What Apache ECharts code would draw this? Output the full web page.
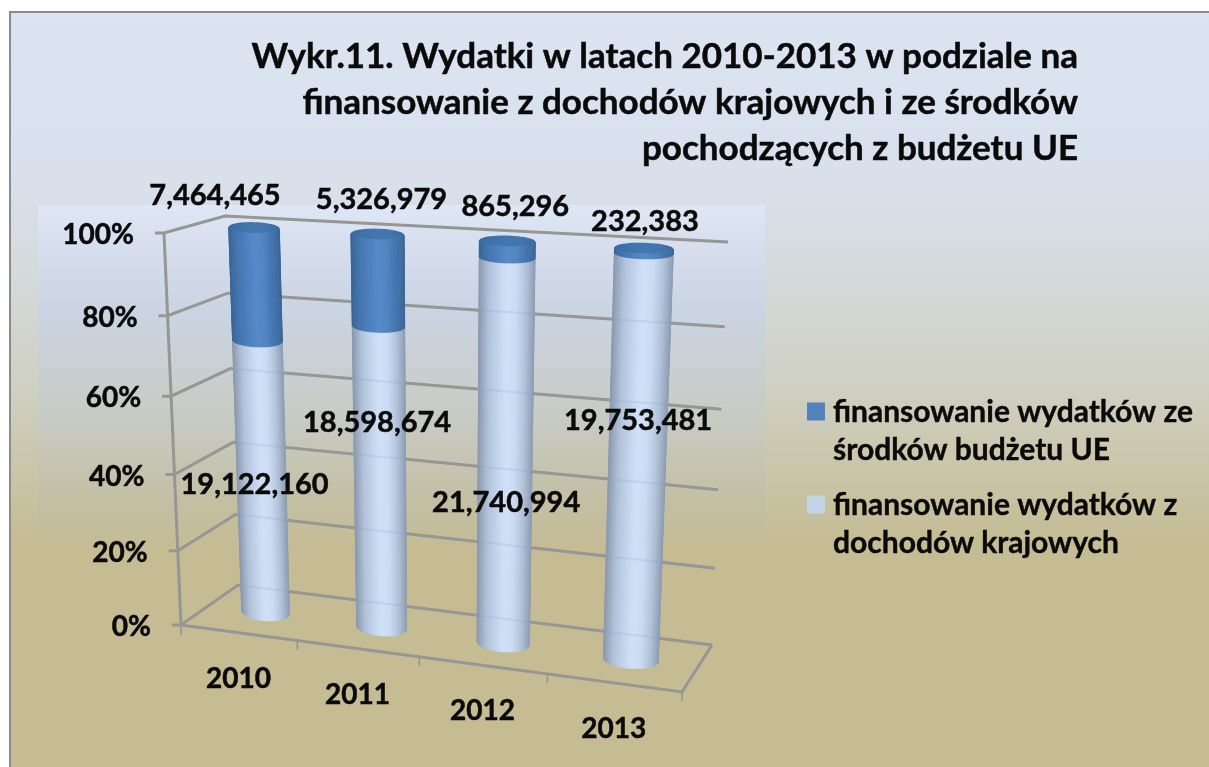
<!DOCTYPE html>
<html>
<head>
<meta charset="utf-8">
<style>
  html, body { margin: 0; padding: 0; background: #fff; }
  #chart { width: 1209px; height: 767px; }
</style>
<script src="https://cdn.jsdelivr.net/npm/echarts@6/dist/echarts.min.js"></script>
</head>
<body>
<div id="chart"></div>
<script>
const years = ["2010", "2011", "2012", "2013"];
const euFunds = [7464465, 5326979, 865296, 232383];
const domesticFunds = [19122160, 18598674, 21740994, 19753481];
const percentTicks = [0, 20, 40, 60, 80, 100];
const titleText = "Wykr.11. Wydatki w latach 2010-2013 w podziale na\nfinansowanie z dochodów krajowych i ze środków\npochodzących z budżetu UE";
const euName = "finansowanie wydatków ze\nśrodków budżetu UE";
const domesticName = "finansowanie wydatków z\ndochodów krajowych";

// hand placed labels in the original, offset from the bar they belong to
const euLabelOffset = [[-39, -32], [4, -35], [8, -34], [1, -27]];
const domesticLabelOffset = [[-7, 5], [-3, -58], [1, 46], [1, -43]];

const FONT = "Lato";
const INK = "#0a0a0a";
const WALL = "#969694";
const gridBox = { left: 181, top: 235, width: 500, height: 390 };

// picture corners of the chart box: bottom left, bottom right, top right, top left
const frontQuad = [[181, 625], [682, 692], [702, 262], [164, 233]];
const backQuad = [[238, 585], [712, 645], [728, 242], [225, 216]];

function makeHomography(q) {
  const [[x0, y0], [x1, y1], [x2, y2], [x3, y3]] = q;
  const dx1 = x1 - x2, dx2 = x3 - x2, sx = x0 - x1 + x2 - x3;
  const dy1 = y1 - y2, dy2 = y3 - y2, sy = y0 - y1 + y2 - y3;
  const den = dx1 * dy2 - dx2 * dy1;
  const g = (sx * dy2 - dx2 * sy) / den;
  const h = (dx1 * sy - sx * dy1) / den;
  const a = x1 - x0 + g * x1, b = x3 - x0 + h * x3;
  const d = y1 - y0 + g * y1, e = y3 - y0 + h * y3;
  return (u, v) => {
    const w = g * u + h * v + 1;
    return [(a * u + b * v + x0) / w, (d * u + e * v + y0) / w];
  };
}
const frontPlane = makeHomography(frontQuad);
const backPlane = makeHomography(backQuad);

// axis pixel -> picture pixel, depth 0 is the front of the box and 1 the back wall
function project(pt, depth, shiftU) {
  const u = (pt[0] - gridBox.left) / gridBox.width + (shiftU || 0);
  const v = (gridBox.top + gridBox.height - pt[1]) / gridBox.height;
  const f = frontPlane(u, v);
  const b = backPlane(u, v);
  return [f[0] + (b[0] - f[0]) * depth, f[1] + (b[1] - f[1]) * depth];
}

function textEl(text, x, y, size, align) {
  return {
    type: "text",
    z2: 50,
    style: {
      x, y, text,
      fill: INK,
      stroke: INK,
      lineWidth: 0.5,
      font: "bold " + size + "px " + FONT,
      align: align || "center",
      verticalAlign: "middle",
    },
  };
}

function line(points, width) {
  return {
    type: "polyline",
    shape: { points },
    style: { fill: null, stroke: WALL, lineWidth: width || 3 },
  };
}

const BAR_HALF_U = 0.0525;
const STRIPS = 36;
const lightShades = ["#8c9ab0", "#b0c1d9", "#c2d3ec", "#d1e1f8", "#cbdbf3", "#b1c2da", "#8d9bb1"];
const blueShades = ["#3a6698", "#4375b0", "#4d7fbe", "#5589c9", "#5083c2", "#4273ae", "#3a6698"];
const capShades = ["#3a6a9f", "#4072aa", "#4476b0", "#4274ae", "#3a6a9f"];

function rimPoint(rim, t) {
  return [
    rim.c[0] + rim.half[0] * Math.cos(t),
    rim.c[1] + rim.half[1] * 0.5 * Math.cos(t) + rim.ry * Math.sin(t),
  ];
}

// vertical strips instead of one gradient so the shading leans with the bar
function cylinderPart(api, shades, withCap) {
  const i = api.value(0);
  const rim = (pct) => {
    const base = api.coord([i, pct]);
    const l = project(base, 0.5, -BAR_HALF_U);
    const r = project(base, 0.5, BAR_HALF_U);
    return {
      c: project(base, 0.5),
      half: [(r[0] - l[0]) / 2, (r[1] - l[1]) / 2],
      ry: 8.5 - 3 * pct / 100,
    };
  };
  const lo = rim(api.value(1));
  const hi = rim(api.value(2));
  const kids = [];
  for (let s = 0; s < STRIPS; s++) {
    const t0 = Math.PI * s / STRIPS;
    const t1 = Math.PI * (s + 1) / STRIPS;
    const color = echarts.color.lerp((Math.cos((t0 + t1) / 2) + 1) / 2, shades);
    kids.push({
      type: "polygon",
      shape: { points: [rimPoint(lo, t0), rimPoint(lo, t1), rimPoint(hi, t1), rimPoint(hi, t0)] },
      style: { fill: color, stroke: color, lineWidth: 0.7 },
    });
  }
  if (withCap) {
    const cap = [];
    for (let s = 0; s < 48; s++) cap.push(rimPoint(hi, Math.PI * 2 * s / 48));
    kids.push({
      type: "polygon",
      shape: { points: cap },
      style: {
        fill: new echarts.graphic.LinearGradient(0, 0, 1, 0,
          capShades.map((color, n) => ({ offset: n / (capShades.length - 1), color }))),
      },
    });
  }
  return kids;
}

// the back wall lines show faintly through the pale part of the bar
function wallGhosts(api) {
  const i = api.value(0);
  const kids = [];
  percentTicks.forEach((pct) => {
    if (pct >= api.value(2)) return;
    const y = api.coord([0, pct])[1];
    const backL = project([gridBox.left, y], 1);
    const backR = project([gridBox.left + gridBox.width, y], 1);
    const mid = project(api.coord([i, pct]), 0.5);
    const hw = (project(api.coord([i, pct]), 0.5, BAR_HALF_U)[0] - mid[0]) * 0.94;
    const atX = (x) => [x, backL[1] + (backR[1] - backL[1]) * (x - backL[0]) / (backR[0] - backL[0])];
    kids.push({
      type: "polyline",
      shape: { points: [atX(mid[0] - hw), atX(mid[0] + hw)] },
      style: { fill: null, stroke: "#8ea5d0", lineWidth: 2, opacity: 0.22 },
    });
  });
  return kids;
}

const totals = years.map((y, i) => euFunds[i] + domesticFunds[i]);
const domesticData = years.map((y, i) => [i, 0, domesticFunds[i] / totals[i] * 100, domesticFunds[i]]);
const euData = years.map((y, i) => [i, domesticFunds[i] / totals[i] * 100, 100, euFunds[i]]);

const chart = echarts.init(document.getElementById("chart"));
chart.setOption({
  animation: false,
  backgroundColor: "#ffffff",
  title: {
    text: titleText,
    left: 1078,
    top: 34,
    padding: 0,
    textAlign: "right",
    textStyle: {
      fontFamily: FONT, fontWeight: "bold", fontSize: 35, lineHeight: 46, color: INK,
      align: "right", textBorderColor: INK, textBorderWidth: 0.5,
    },
  },
  legend: {
    orient: "vertical",
    left: 802,
    top: 388,
    itemGap: 17,
    itemWidth: 21,
    itemHeight: 57,
    // square sits level with the first text line, the empty move stretches the icon box
    icon: "path://M0,0H18V18H0Z M21,57L21,57Z",
    data: [euName, domesticName],
    textStyle: {
      fontFamily: FONT, fontWeight: "bold", fontSize: 30, lineHeight: 38, color: INK,
      textBorderColor: INK, textBorderWidth: 0.4,
    },
  },
  grid: gridBox,
  xAxis: { type: "category", data: years, show: false },
  yAxis: { type: "value", min: 0, max: 100, interval: 20, show: false },
  graphic: [
    { type: "rect", z: -10, shape: { x: 10, y: 12, width: 1300, height: 900 },
      style: {
        stroke: "#8c8c8c", lineWidth: 2,
        fill: new echarts.graphic.LinearGradient(0, 0, 0, 540, [
          { offset: 0, color: "#dce4f3" },
          { offset: 0.35, color: "#d9e0ec" },
          { offset: 0.72, color: "#cfd0c2" },
          { offset: 1, color: "#c5bc94" },
        ], true),
      } },
    { type: "rect", z: -9, shape: { x: 38, y: 205, width: 727, height: 343 },
      style: {
        fill: new echarts.graphic.LinearGradient(0, 0, 0, 1, [
          { offset: 0, color: "#dfe6f6" },
          { offset: 0.3, color: "#cbd4e3" },
          { offset: 0.6, color: "#c8ccc6" },
          { offset: 0.86, color: "#c3bfa4" },
          { offset: 1, color: "#c5bc95" },
        ]),
      } },
  ],
  series: [
    {
      // walls, floor and percent labels
      name: "walls",
      type: "custom",
      coordinateSystem: "cartesian2d",
      silent: true,
      clip: false,
      z: 1,
      data: percentTicks.map((p) => [0, p]),
      renderItem(params, api) {
        const pct = api.value(1);
        const left = [gridBox.left, api.coord([0, pct])[1]];
        const right = [gridBox.left + gridBox.width, left[1]];
        const front = project(left, 0);
        const backL = project(left, 1);
        const backR = project(right, 1);
        const kids = [
          line([[front[0] - 9, front[1]], front, backL, backR]),
          textEl(pct + "%", front[0] - 30, front[1] + 2, 28, "right"),
        ];
        if (pct === 0) {
          const frontR = project(right, 0);
          kids.push(line([front, frontR, backR]));
          kids.push(line([front, project([gridBox.left, gridBox.top], 0)]));
          kids.push(line([[front[0], front[1]], [front[0], front[1] + 10]], 1.6));
          // category ticks along the front edge
          for (let t = 1; t <= years.length; t++) {
            const p = project([gridBox.left + gridBox.width * t / years.length, left[1]], 0);
            kids.push(line([p, [p[0], p[1] + 9]], 1.6));
          }
        }
        return { type: "group", children: kids };
      },
    },
    {
      name: "years",
      type: "custom",
      coordinateSystem: "cartesian2d",
      silent: true,
      clip: false,
      z: 1,
      data: years.map((y, i) => [i, 0]),
      renderItem(params, api) {
        const i = api.value(0);
        const p = project(api.coord([i, 0]), 0);
        return textEl(years[i], p[0], p[1] + 46, 28);
      },
    },
    {
      name: domesticName,
      type: "custom",
      coordinateSystem: "cartesian2d",
      silent: true,
      clip: false,
      z: 3,
      itemStyle: { color: "#c3d3e8" },
      encode: { x: 0, y: 2 },
      data: domesticData,
      renderItem(params, api) {
        const i = api.value(0);
        const mid = project(api.coord([i, (api.value(1) + api.value(2)) / 2]), 0.5);
        const kids = cylinderPart(api, lightShades, false).concat(wallGhosts(api));
        const off = domesticLabelOffset[i];
        kids.push(textEl(echarts.format.addCommas(api.value(3)), mid[0] + off[0], mid[1] + off[1], 29));
        return { type: "group", children: kids };
      },
    },
    {
      name: euName,
      type: "custom",
      coordinateSystem: "cartesian2d",
      silent: true,
      clip: false,
      z: 4,
      itemStyle: { color: "#5283bf" },
      encode: { x: 0, y: 2 },
      data: euData,
      renderItem(params, api) {
        const i = api.value(0);
        const top = project(api.coord([i, 100]), 0.5);
        const kids = cylinderPart(api, blueShades, true);
        const off = euLabelOffset[i];
        kids.push(textEl(echarts.format.addCommas(api.value(3)), top[0] + off[0], top[1] + off[1], 29));
        return { type: "group", children: kids };
      },
    },
  ],
});
</script>
</body>
</html>
